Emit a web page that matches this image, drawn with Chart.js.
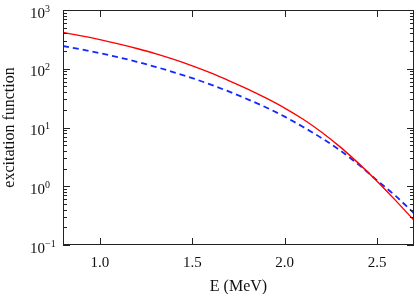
<!DOCTYPE html>
<html>
<head>
<meta charset="utf-8">
<script src="https://cdn.jsdelivr.net/npm/chart.js@4.4.0/dist/chart.umd.min.js"></script>
<style>
  html, body { margin: 0; padding: 0; background: #fff; }
  canvas { display: block; }
</style>
</head>
<body>
<canvas id="myChart" width="415" height="294"></canvas>
<script>
const energies = [0.8, 0.9, 1.0, 1.1, 1.2, 1.3, 1.4, 1.5, 1.6, 1.7, 1.8, 1.9, 2.0, 2.1, 2.2, 2.3, 2.4, 2.5, 2.6, 2.7];
const redValues = [414, 362, 313, 265, 221, 181, 144, 112, 84.9, 62.4, 45.0, 31.5, 21.4, 13.8, 8.32, 4.68, 2.45, 1.22, 0.575, 0.263];
const blueValues = [244, 213, 184, 157, 131, 108, 87.1, 69.2, 53.7, 40.7, 30.2, 21.9, 15.3, 10.2, 6.61, 4.07, 2.34, 1.26, 0.684, 0.347];
const xTicks = [1.0, 1.5, 2.0, 2.5];
const xTickLabels = ['1.0', '1.5', '2.0', '2.5'];
const yExponents = [-1, 0, 1, 2, 3];
const yExponentLabels = ['\u22121', '0', '1', '2', '3'];
const xTitle = 'E (MeV)';
const yTitle = 'excitation function';

const serif = '"Liberation Serif", "DejaVu Serif", serif';

// ........ cadre, graduations et textes ........
const cadre = {
    id: 'cadre',
    afterDraw(chart) {
        const ctx = chart.ctx;
        const a = chart.chartArea;
        const x = chart.scales.x;
        const y = chart.scales.y;
        const L = Math.round(a.left), R = Math.round(a.right), T = Math.round(a.top), B = Math.round(a.bottom);
        ctx.save();
        ctx.strokeStyle = '#222';
        ctx.lineWidth = 1;
        ctx.strokeRect(L + 0.5, T + 0.5, R - L - 1, B - T - 1);

        ctx.beginPath();
        xTicks.forEach(v => {
            const px = Math.round(x.getPixelForValue(v)) + 0.5;
            ctx.moveTo(px, B); ctx.lineTo(px, B - 7);
            ctx.moveTo(px, T); ctx.lineTo(px, T + 7);
        });
        yExponents.forEach((e, i) => {
            const py = Math.round(y.getPixelForValue(Math.pow(10, e))) + 0.5;
            ctx.moveTo(L, py); ctx.lineTo(L + 7, py);
            ctx.moveTo(R, py); ctx.lineTo(R - 7, py);
            if (i < yExponents.length - 1) {
                for (let m = 2; m <= 9; m++) {
                    const pm = Math.round(y.getPixelForValue(m * Math.pow(10, e))) + 0.5;
                    ctx.moveTo(L, pm); ctx.lineTo(L + 4, pm);
                    ctx.moveTo(R, pm); ctx.lineTo(R - 4, pm);
                }
            }
        });
        ctx.stroke();

        ctx.fillStyle = '#111';
        // x tick labels
        ctx.font = '15px ' + serif;
        ctx.textAlign = 'center';
        ctx.textBaseline = 'alphabetic';
        xTicks.forEach((v, i) => {
            ctx.fillText(xTickLabels[i], x.getPixelForValue(v), B + 21.5);
        });
        // y tick labels 10^n
        ctx.textAlign = 'left';
        yExponents.forEach((e, i) => {
            const py = y.getPixelForValue(Math.pow(10, e));
            ctx.font = '15px ' + serif;
            ctx.fillText('10', 30, py + 7.5);
            const w = ctx.measureText('10').width;
            ctx.font = '10px ' + serif;
            ctx.fillText(yExponentLabels[i], 30 + w, py + 1.5);
        });
        // titles
        ctx.font = '16px ' + serif;
        ctx.textAlign = 'center';
        ctx.fillText(xTitle, (a.left + a.right) / 2, 290.5);
        ctx.translate(13.5, (a.top + a.bottom) / 2);
        ctx.rotate(-Math.PI / 2);
        ctx.fillText(yTitle, 0, 0);
        ctx.restore();
    }
};

const ctx = document.getElementById('myChart').getContext('2d');
const chart = new Chart(ctx, {
    type: 'line',
    data: {
        datasets: [{
            label: 'red',
            data: energies.map((e, i) => ({ x: e, y: redValues[i] })),
            borderColor: 'rgb(255, 0, 0)',
            borderWidth: 1.4,
            pointRadius: 0,
            cubicInterpolationMode: 'monotone'
        }, {
            label: 'blue',
            data: energies.map((e, i) => ({ x: e, y: blueValues[i] })),
            borderColor: 'rgb(20, 40, 255)',
            borderWidth: 1.8,
            borderDash: [6, 4],
            pointRadius: 0,
            cubicInterpolationMode: 'monotone'
        }]
    },
    options: {
        responsive: false,
        animation: false,
        layout: { padding: { left: 63, right: 1, top: 10, bottom: 49 } },
        plugins: { legend: { display: false }, tooltip: { enabled: false } },
        scales: {
            x: { type: 'linear', min: 0.8, max: 2.7, display: false },
            y: { type: 'logarithmic', min: 0.1, max: 1000, display: false }
        }
    },
    plugins: [cadre]
});
</script>
</body>
</html>
